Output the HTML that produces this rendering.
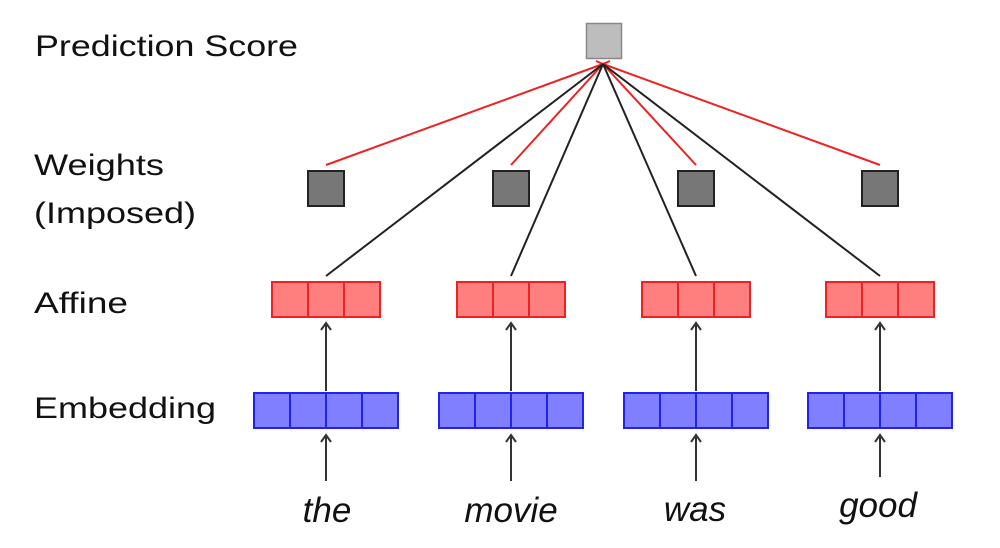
<!DOCTYPE html>
<html><head><meta charset="utf-8"><style>
html,body{margin:0;padding:0;background:#fff;}
svg{display:block;}
</style></head><body>
<svg width="1000" height="548" viewBox="0 0 1000 548" xmlns="http://www.w3.org/2000/svg">
<g font-family="Liberation Sans, sans-serif" font-size="30" fill="#111">
<text x="35" y="56" textLength="263" lengthAdjust="spacingAndGlyphs">Prediction Score</text>
<text x="34" y="175" textLength="130" lengthAdjust="spacingAndGlyphs">Weights</text>
<text x="34" y="223" textLength="162" lengthAdjust="spacingAndGlyphs">(Imposed)</text>
<text x="34" y="313" textLength="94" lengthAdjust="spacingAndGlyphs">Affine</text>
<text x="34" y="418" textLength="182" lengthAdjust="spacingAndGlyphs">Embedding</text>
</g>
<g font-family="Liberation Sans, sans-serif" font-size="35" font-style="italic" fill="#111" text-anchor="middle">
<text x="327" y="522">the</text>
<text x="511" y="522">movie</text>
<text x="695" y="521">was</text>
<text x="878" y="517">good</text>
</g>
<rect x="586.5" y="23.5" width="35" height="35" fill="#bdbdbd" stroke="#888" stroke-width="1.5"/>
<g stroke="#ee2222" stroke-width="2" fill="none">
<line x1="326" y1="165" x2="603" y2="64"/>
<line x1="511" y1="165" x2="603" y2="64"/>
<line x1="696" y1="165" x2="603" y2="64"/>
<line x1="880" y1="165" x2="603" y2="64"/>
<path d="M596 61 L603 64 L598 69 M610 61 L603 64 L608 69"/>
</g>
<g stroke="#222" stroke-width="2" fill="none">
<line x1="326" y1="276" x2="603" y2="64"/>
<line x1="511" y1="276" x2="603" y2="64"/>
<line x1="696" y1="276" x2="603" y2="64"/>
<line x1="880" y1="276" x2="603" y2="64"/>
</g>
<g fill="#777" stroke="#222" stroke-width="2">
<rect x="308" y="171" width="36" height="35"/>
<rect x="493" y="171" width="36" height="35"/>
<rect x="678" y="171" width="36" height="35"/>
<rect x="862" y="171" width="36" height="35"/>
</g>
<g fill="#ff7f7f" stroke="#ee2222" stroke-width="2">
<rect x="272" y="282" width="108" height="35"/><line x1="308" y1="282" x2="308" y2="317"/><line x1="344" y1="282" x2="344" y2="317"/>
<rect x="457" y="282" width="108" height="35"/><line x1="493" y1="282" x2="493" y2="317"/><line x1="529" y1="282" x2="529" y2="317"/>
<rect x="642" y="282" width="108" height="35"/><line x1="678" y1="282" x2="678" y2="317"/><line x1="714" y1="282" x2="714" y2="317"/>
<rect x="826" y="282" width="108" height="35"/><line x1="862" y1="282" x2="862" y2="317"/><line x1="898" y1="282" x2="898" y2="317"/>
</g>
<g fill="#7f7fff" stroke="#2222ee" stroke-width="2">
<rect x="254" y="393" width="144" height="35"/><line x1="290" y1="393" x2="290" y2="428"/><line x1="326" y1="393" x2="326" y2="428"/><line x1="362" y1="393" x2="362" y2="428"/>
<rect x="439" y="393" width="144" height="35"/><line x1="475" y1="393" x2="475" y2="428"/><line x1="511" y1="393" x2="511" y2="428"/><line x1="547" y1="393" x2="547" y2="428"/>
<rect x="624" y="393" width="144" height="35"/><line x1="660" y1="393" x2="660" y2="428"/><line x1="696" y1="393" x2="696" y2="428"/><line x1="732" y1="393" x2="732" y2="428"/>
<rect x="808" y="393" width="144" height="35"/><line x1="844" y1="393" x2="844" y2="428"/><line x1="880" y1="393" x2="880" y2="428"/><line x1="916" y1="393" x2="916" y2="428"/>
</g>
<g stroke="#333" stroke-width="2" fill="none">
<path d="M326 391 V323 M321 330 L326 323 L331 330"/>
<path d="M511 391 V323 M506 330 L511 323 L516 330"/>
<path d="M696 391 V323 M691 330 L696 323 L701 330"/>
<path d="M880 391 V323 M875 330 L880 323 L885 330"/>
<path d="M326 481 V435 M321 442 L326 435 L331 442"/>
<path d="M511 481 V435 M506 442 L511 435 L516 442"/>
<path d="M696 481 V435 M691 442 L696 435 L701 442"/>
<path d="M880 477 V435 M875 442 L880 435 L885 442"/>
</g>
</svg>
</body></html>
